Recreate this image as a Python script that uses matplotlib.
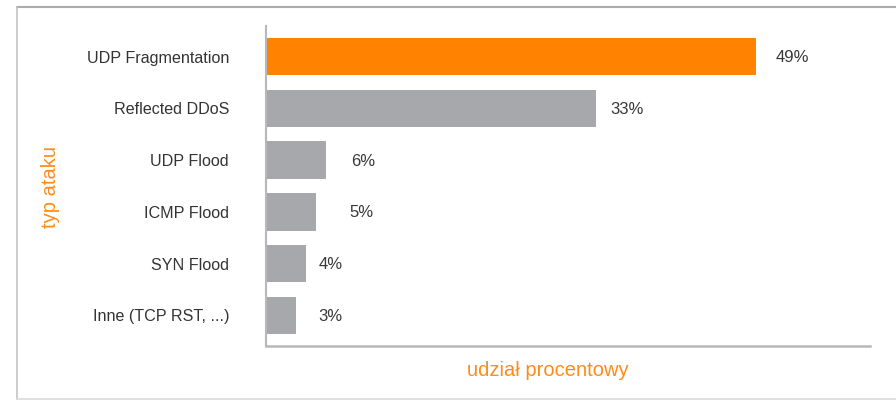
import matplotlib.pyplot as plt
from matplotlib.lines import Line2D

plt.rcParams['font.family'] = ['Liberation Sans', 'DejaVu Sans']

# udział typów ataków (w %)
kategorie = ['UDP Fragmentation', 'Reflected DDoS', 'UDP Flood',
             'ICMP Flood', 'SYN Flood', 'Inne (TCP RST, ...)']
udzial = [49, 33, 6, 5, 4, 3]
kolory = ['#ff8200', '#a7a8ab', '#a7a8ab', '#a7a8ab', '#a7a8ab', '#a7a8ab']
odstep = [2.0, 1.4, 2.5, 3.3, 1.3, 2.2]   # przesunięcie etykiet od końca słupka

W, H = 896, 401
fig = plt.figure(figsize=(W / 100, H / 100), dpi=100)

# ramka wokół wykresu
fig.add_artist(Line2D([17 / W, 1], [1 - 6.5 / H, 1 - 6.5 / H], color='#acacae', lw=1.5))
fig.add_artist(Line2D([17 / W, 17 / W], [1 - 6.5 / H, 1 - 399 / H], color='#c4c4c6', lw=1.2))
fig.add_artist(Line2D([17 / W, 1], [1 - 399 / H, 1 - 399 / H], color='#dcdcde', lw=1.2))

ax = fig.add_axes([266 / W, 1 - 345.5 / H, (870 - 266) / W, (345.5 - 26) / H])

y = list(range(len(kategorie)))
ax.barh(y, udzial, height=0.72, color=kolory)
for yi, v, d in zip(y, udzial, odstep):
    ax.text(v + d, yi + 0.02, f'{v}%', va='center', ha='left', fontsize=12, color='#383838')

ax.set_xlim(0, 60.4)
ax.set_ylim(5.58, -0.59)
ax.set_yticks(y)
ax.set_yticklabels(kategorie, fontsize=11.6, color='#333333')
ax.tick_params(axis='y', length=0, pad=26.6)
ax.set_xticks([])

for s in ['top', 'right']:
    ax.spines[s].set_visible(False)
ax.spines['left'].set_color('#b8b8ba')
ax.spines['bottom'].set_color('#b8b8ba')
ax.spines['left'].set_linewidth(1.5)
ax.spines['bottom'].set_linewidth(1.8)

fig.text(50 / W, 1 - 187 / H, 'typ ataku', rotation=90, ha='center', va='center',
         fontsize=14.5, color='#ff8c1a')
fig.text(548 / W, 1 - 371 / H, 'udział procentowy', ha='center', va='center',
         fontsize=14.5, color='#ff8c1a')

fig.savefig('out.png', dpi=100)
